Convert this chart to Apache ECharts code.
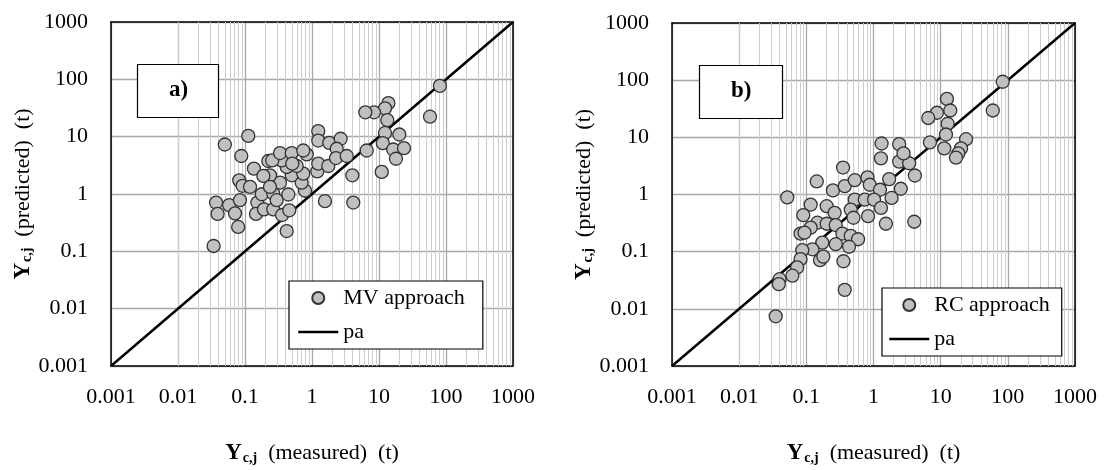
<!DOCTYPE html>
<html>
<head>
<meta charset="utf-8">
<script src="https://cdn.jsdelivr.net/npm/echarts@6/dist/echarts.min.js"></script>
<style>
  html, body { margin: 0; padding: 0; background: #fff; }
  #chart { width: 1106px; height: 470px; }
</style>
</head>
<body>
<div id="chart"></div>
<script>
// ---- data ----
const tickValues = [0.001, 0.01, 0.1, 1, 10, 100, 1000];
const tickLabels = ['0.001', '0.01', '0.1', '1', '10', '100', '1000'];

// Panel a) MV approach : measured (x) vs predicted (y)
const mvX = [0.050, 0.112, 0.088, 0.136, 0.082, 0.092, 0.119, 0.037, 0.039, 0.058,
             0.071, 0.079, 0.034, 0.084, 0.153, 0.146, 0.192, 0.264, 0.357, 0.419,
             0.458, 0.178, 0.264, 0.297, 0.443, 0.787, 0.70, 0.333, 0.236, 0.188,
             0.498, 0.741, 0.591, 0.419, 0.353, 0.223, 0.255, 0.333, 0.498, 0.834,
             0.741, 1.2, 1.24, 1.75, 1.24, 1.24, 1.81, 2.68, 2.34, 2.28,
             3.3, 4.0, 1.56, 4.13, 81, 57.7, 13.8, 12.3, 8.42, 6.25,
             13.3, 12.3, 20.1, 11.4, 16.3, 23.6, 17.9, 11, 6.55, 0.508, 0.236];
const mvY = [7.3, 10.3, 4.6, 2.77, 1.73, 1.39, 1.33, 0.71, 0.45, 0.64,
             0.46, 0.266, 0.124, 0.78, 0.71, 0.45, 0.54, 0.54, 0.43, 0.226,
             0.52, 0.99, 1.02, 0.78, 0.98, 1.14, 1.58, 1.58, 2.12, 2.07,
             2.12, 2.27, 3.08, 2.96, 3.85, 3.76, 3.85, 5.18, 5.18, 4.9,
             5.74, 2.48, 3.38, 3.08, 12.5, 8.55, 7.8, 9.2, 6.15, 4.24,
             4.6, 2.12, 0.75, 0.71, 77, 22.3, 38.5, 31.2, 26.6, 26.6,
             19.5, 11.6, 10.9, 7.7, 5.97, 6.3, 4.12, 2.43, 5.74, 3.38, 1.33];

// Panel b) RC approach
const rcX = [1.32, 1.29, 0.352, 0.143, 0.249, 0.373, 0.526, 0.813, 0.88, 1.25,
             1.71, 0.052, 0.116, 0.090, 0.201, 0.264, 0.526, 0.742, 1.02, 1.29,
             0.458, 0.503, 0.83, 1.53, 0.146, 0.201, 0.274, 0.116, 0.082, 0.094,
             0.344, 0.458, 0.589, 0.173, 0.274, 0.432, 0.123, 0.087, 0.082, 0.16,
             0.179, 0.357, 0.073, 0.062, 0.040, 0.039, 0.373, 0.035, 2.41, 3.4,
             2.55, 1.86, 4.04, 84, 59.7, 12.4, 13.9, 8.81, 6.53, 12.7,
             12, 6.92, 11.3, 23.9, 20.1, 18.3, 16.9, 2.41, 2.8, 4.13];
const rcY = [7.8, 4.29, 2.96, 1.69, 1.18, 1.40, 1.78, 1.99, 1.48, 1.21,
             1.86, 0.89, 0.666, 0.436, 0.624, 0.478, 0.813, 0.813, 0.813, 0.583,
             0.545, 0.392, 0.419, 0.308, 0.321, 0.308, 0.292, 0.263, 0.207, 0.215,
             0.207, 0.189, 0.165, 0.144, 0.135, 0.122, 0.11, 0.106, 0.074, 0.071,
             0.082, 0.068, 0.053, 0.038, 0.033, 0.027, 0.0215, 0.0074, 3.76, 3.52,
             1.26, 0.87, 0.334, 93.8, 29.5, 47, 29.5, 26.9, 21.8, 17.3,
             11.2, 8.13, 6.4, 9.27, 6.4, 5.24, 4.41, 7.6, 5.24, 2.15];

// perfect agreement line
const paX = [0.001, 1000];
const paY = [0.001, 1000];

// ---- build ----
const zip = (a, b) => a.map((v, i) => [v, b[i]]);
const minorGrid = [];
for (let d = 0.001; d < 999; d *= 10) {
  for (let m = 2; m <= 9; m++) minorGrid.push(+(d * m).toPrecision(3));
}

const FONT = "'Liberation Serif', 'Times New Roman', serif";
const fmt = v => {
  const i = tickValues.findIndex(t => Math.abs(Math.log10(t) - Math.log10(v)) < 1e-6);
  return i >= 0 ? tickLabels[i] : '';
};

const nameRich = {
  b: { fontFamily: FONT, fontSize: 23, fontWeight: 'bold', color: '#000' },
  s: { fontFamily: FONT, fontSize: 14, fontWeight: 'bold', color: '#000', padding: [9, 0, 0, 1] },
  t: { fontFamily: FONT, fontSize: 22, color: '#000' }
};

function mkX(gridIndex, pos) {
  const main = pos === 'bottom';
  return {
    type: 'log', logBase: 10, min: 0.001, max: 1000, gridIndex, position: pos,
    axisLine: { show: true, onZero: false, lineStyle: { color: '#000', width: 1.5 } },
    axisTick: { show: false },
    axisLabel: { show: main, formatter: fmt, margin: 20, fontFamily: FONT, fontSize: 22, color: '#000' },
    splitLine: { show: main, lineStyle: { color: '#a8a8a8', width: 1.3 } },
    name: main ? '{b|Y}{s|c,j}{t|  (measured)  (t)}' : '',
    nameLocation: 'middle', nameGap: 76,
    nameTextStyle: { rich: nameRich }
  };
}
function mkY(gridIndex, pos) {
  const main = pos === 'left';
  return {
    type: 'log', logBase: 10, min: 0.001, max: 1000, gridIndex, position: pos,
    axisLine: { show: true, onZero: false, lineStyle: { color: '#000', width: 1.5 } },
    axisTick: { show: false },
    axisLabel: { show: main, formatter: fmt, margin: 23, fontFamily: FONT, fontSize: 22, color: '#000' },
    splitLine: { show: main, lineStyle: { color: '#a8a8a8', width: 1.3 } },
    name: main ? '{b|Y}{s|c,j}{t|  (predicted)  (t)}' : '',
    nameLocation: 'middle', nameGap: 74, nameRotate: 90,
    nameTextStyle: { rich: nameRich }
  };
}

function paSeries(idx) {
  return {
    name: 'pa', type: 'line', xAxisIndex: idx * 2, yAxisIndex: idx * 2,
    data: zip(paX, paY), symbol: 'none', showSymbol: false, z: 2,
    lineStyle: { color: '#000', width: 2.5 }, itemStyle: { color: '#000' },
    markLine: {
      silent: true, z: 1, symbol: ['none', 'none'], label: { show: false },
      lineStyle: { color: '#cdcdcd', width: 1, type: 'solid' },
      emphasis: { disabled: true },
      data: minorGrid.map(v => ({ xAxis: v }))
    }
  };
}
function scatterSeries(name, xs, ys, idx) {
  return {
    name, type: 'scatter', xAxisIndex: idx * 2, yAxisIndex: idx * 2,
    data: zip(xs, ys), symbol: 'circle', symbolSize: 13, z: 3,
    itemStyle: { color: '#c0c0c0', borderColor: '#333', borderWidth: 1.3, opacity: 1 }
  };
}
function mkLegend(left, top, name, pad) {
  return {
    left, top, orient: 'vertical',
    data: [name, { name: 'pa', itemStyle: { opacity: 0 }, lineStyle: { opacity: 1, color: '#000', width: 2.5 } }],
    backgroundColor: '#fff', borderColor: '#000', borderWidth: 1.2,
    padding: pad, itemGap: 12, itemWidth: 40, itemHeight: 12,
    textStyle: { fontFamily: FONT, fontSize: 22, color: '#000' },
    selectedMode: false
  };
}
function mkTitle(text, left, top) {
  return {
    text, left, top,
    textStyle: { fontFamily: FONT, fontSize: 23, fontWeight: 'bold', color: '#000' },
    borderColor: '#000', borderWidth: 1.2, backgroundColor: '#fff',
    padding: [15, 31, 16, 32]
  };
}

const chart = echarts.init(document.getElementById('chart'), null, { renderer: 'canvas' });
chart.setOption({
  animation: false,
  backgroundColor: '#fff',
  title: [mkTitle('a)', 137, 64), mkTitle('b)', 699, 65)],
  legend: [
    mkLegend(289, 281, 'MV approach', [6, 18, 6, 8]),
    mkLegend(882, 288, 'RC approach', [6, 12, 6, 6])
  ],
  grid: [
    { left: 111, top: 22, width: 402, height: 346 },
    { left: 672, top: 23, width: 403, height: 346 }
  ],
  xAxis: [mkX(0, 'bottom'), mkX(0, 'top'), mkX(1, 'bottom'), mkX(1, 'top')],
  yAxis: [mkY(0, 'left'), mkY(0, 'right'), mkY(1, 'left'), mkY(1, 'right')],
  series: [
    paSeries(0), scatterSeries('MV approach', mvX, mvY, 0),
    paSeries(1), scatterSeries('RC approach', rcX, rcY, 1)
  ]
});
</script>
</body>
</html>
